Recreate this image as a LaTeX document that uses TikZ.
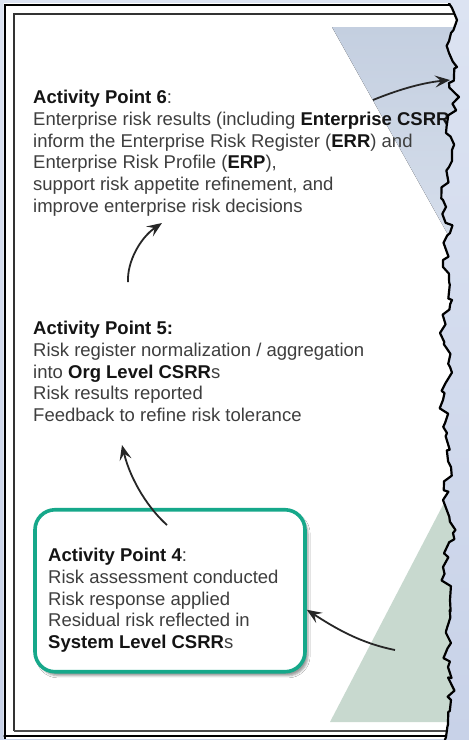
\documentclass[tikz,border=0pt]{standalone}
\usepackage{fontspec}
\setmainfont{Liberation Sans}
\usetikzlibrary{positioning,
        arrows.meta,
        decorations.pathmorphing,
        shadows.blur}
\definecolor{pagetop}{RGB}{220,227,242}
\definecolor{pagebot}{RGB}{200,210,232}
\definecolor{skytop}{RGB}{196,207,224}
\definecolor{skybot}{RGB}{216,224,237}
\definecolor{sageband}{RGB}{200,217,207}
\definecolor{tealline}{RGB}{22,168,138}
\definecolor{bodytext}{RGB}{62,62,62}
\newcommand{\apfont}{\fontsize{18.5}{21.7}\selectfont}
\newcommand{\keyterm}[1]{\textbf{\textcolor{black!92}{#1}}}

\begin{document}
\begin{tikzpicture}[x=1pt,y=-1pt,
        tear/.style={decoration={random steps,segment length=7pt,amplitude=4.4pt}},
        aptext/.style={anchor=north west,align=left,inner sep=0pt,text=bodytext,font=\apfont},
        apbox/.style={draw=tealline,line width=3.6pt,rounded corners=20pt,fill=white,
            minimum width=270pt,minimum height=162pt,
            blur shadow={shadow xshift=3pt,shadow yshift=-4pt,shadow opacity=40}},
        flow/.style={draw=black!85,line width=1.8pt,-{Stealth[length=15pt,width=12pt,inset=6pt]}}]
            \useasboundingbox (0,0) rectangle (469,740);
            \fill[top color=pagetop,bottom color=pagebot] (0,0) rectangle (469,740);

            % torn right edge of the page
            \pgfmathsetseed{4242}
            \path[save path=\tornshape] decorate[tear]
                {(-10,-10) -- (450,-10) -- (450,5) -- (457,20) -- (451,33) -- (449,53) -- (457,67)
                -- (449,83) -- (459,97) -- (446,133) -- (452,150) -- (449,167) -- (443,200)
                -- (450,233) -- (443,267) -- (452,300) -- (440,333) -- (450,367) -- (443,400)
                -- (447,433) -- (451,467) -- (443,500) -- (453,533) -- (443,567) -- (450,600)
                -- (446,633) -- (448,667) -- (451,700) -- (446,737) -- (446,760) -- (-10,760) -- cycle};

            \begin{scope}
                \clip (3.5,3.5) rectangle (469,738);
                \clip[use path=\tornshape];
                \fill[white] (0,0) rectangle (469,740);
                \fill[top color=skytop,bottom color=skybot] (332,27) -- (470,27) -- (470,274) -- cycle;
                \fill[sageband] (330,722) -- (470,453) -- (470,722) -- cycle;
                \draw[black,line width=2.6pt] (5,740) -- (5,5) -- (469,5);
                \draw[black,line width=2.6pt] (0,736) -- (469,736);
                \draw[black!80,line width=2.2pt] (14,731) -- (14,14) -- (469,14);
                \draw[black!70,line width=1.8pt] (14,731) -- (469,731);

                \node[aptext] (ap6) at (33,90) {\keyterm{Activity Point 6}:\\
                    Enterprise risk results (including \keyterm{Enterprise CSRR}\\
                    inform the Enterprise Risk Register (\keyterm{ERR}) and\\
                    Enterprise Risk Profile (\keyterm{ERP}),\\
                    support risk appetite refinement, and\\
                    improve enterprise risk decisions};

                \coordinate (out6) at (373,100);
                \coordinate (edge6) at (450,80);
                \draw[flow] (out6) .. controls (395,91) and (420,83) .. (edge6);
            \end{scope}

            \begin{scope}
                \clip (0,3.5) rectangle (469,740);
                \draw[black,line width=2.2pt,line join=round,use path=\tornshape];
            \end{scope}

            \node[aptext] (ap5) at (33,321) {\keyterm{Activity Point 5:}\\
                Risk register normalization / aggregation\\
                into \keyterm{Org Level CSRR}s\\
                Risk results reported\\
                Feedback to refine risk tolerance};

            \node[apbox] (box4) at (170,590.75) {};
            \node[aptext] (ap4) at (48,548) {\keyterm{Activity Point 4}:\\
                Risk assessment conducted\\
                Risk response applied\\
                Residual risk reflected in\\
                \keyterm{System Level CSRR}s};

            \coordinate (from5) at (128,282);
            \coordinate (to6) at (162,223);
            \coordinate (from4) at (167,525);
            \coordinate (to5) at (122,445);
            \coordinate (feed4) at (395,650);

            \draw[flow] (from5) .. controls (127,262) and (140,238) .. (to6);
            \draw[flow] (from4) .. controls (150,510) and (131,482) .. (to5);
            \draw[flow] (feed4) .. controls (360,643) and (335,628) .. ([yshift=-19pt]box4.east);
        \end{tikzpicture}
\end{document}
